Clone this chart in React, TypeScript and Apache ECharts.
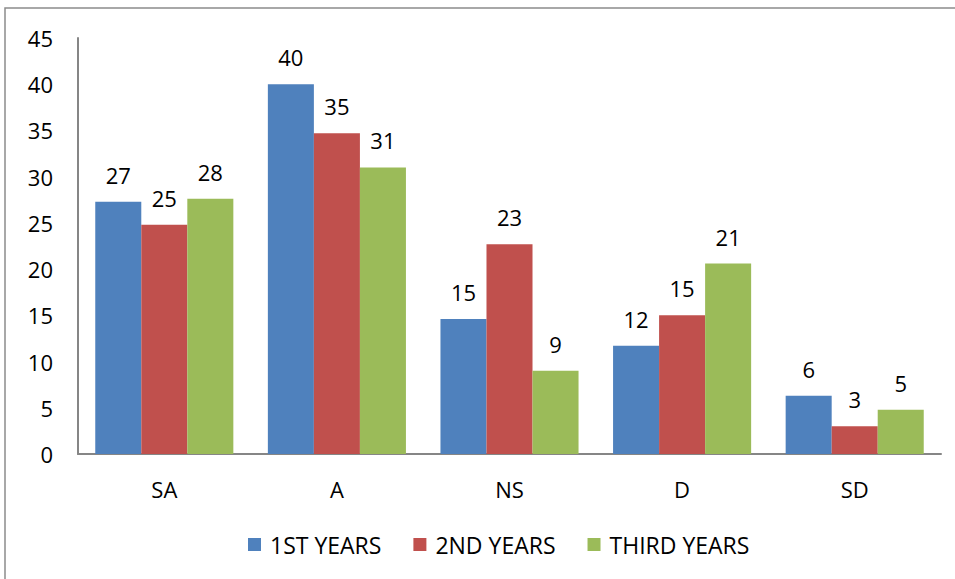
import React, { useEffect, useRef } from "react";
import * as echarts from "echarts";

const categories = ["SA", "A", "NS", "D", "SD"];
const seriesNames = ["1ST YEARS", "2ND YEARS", "THIRD YEARS"];
const firstYears = [27.3, 40.0, 14.6, 11.7, 6.3];
const secondYears = [24.8, 34.7, 22.7, 15.0, 3.0];
const thirdYears = [27.6, 31.0, 9.0, 20.6, 4.8];
const colors = ["#4F81BD", "#C0504D", "#9BBB59"];

const FONT = "'Open Sans', 'Noto Sans', sans-serif";
const FS = 22;

export default function App() {
  const ref = useRef<HTMLDivElement>(null);
  useEffect(() => {
    if (!ref.current) return;
    const chart = echarts.init(ref.current, null, { renderer: "svg" });
    const data = [firstYears, secondYears, thirdYears];
    chart.setOption({
      animation: false,
      textStyle: { fontFamily: FONT },
      graphic: [
        {
          type: "rect",
          shape: { x: 5, y: 8, width: 1000, height: 1000 },
          style: { fill: "none", stroke: "#8c8c8c", lineWidth: 1.5 },
          silent: true,
        },
      ],
      grid: { left: 78, right: 14, top: 38, bottom: 125, containLabel: false },
      legend: {
        data: seriesNames,
        left: 243,
        top: 528,
        icon: "rect",
        itemWidth: 13,
        itemHeight: 13,
        itemGap: 32,
        textStyle: { fontSize: 23, color: "#000", fontFamily: FONT, padding: [0, 0, 0, 4] },
      },
      xAxis: {
        type: "category",
        data: categories,
        axisLine: { show: true, lineStyle: { color: "#868686", width: 2 } },
        axisTick: { show: false },
        axisLabel: { fontSize: FS, color: "#000", margin: 24, fontFamily: FONT },
      },
      yAxis: {
        type: "value",
        min: 0,
        max: 45,
        interval: 5,
        axisLine: { show: true, lineStyle: { color: "#868686", width: 2 } },
        axisTick: { show: false },
        splitLine: { show: false },
        axisLabel: { fontSize: FS, color: "#000", margin: 25, fontFamily: FONT },
      },
      series: seriesNames.map((name, i) => ({
        name,
        type: "bar",
        data: data[i],
        barGap: "0%",
        barCategoryGap: "20%",
        itemStyle: { color: colors[i] },
        label: {
          show: true,
          position: "top",
          distance: 16,
          fontSize: FS,
          color: "#000",
          fontFamily: FONT,
          formatter: (p: any) => String(Math.round(p.value)),
        },
      })),
    });
    return () => chart.dispose();
  }, []);
  return (
    <div
      ref={ref}
      style={{ position: "absolute", left: 0, top: 0, width: 955, height: 579, background: "#fff" }}
    />
  );
}
